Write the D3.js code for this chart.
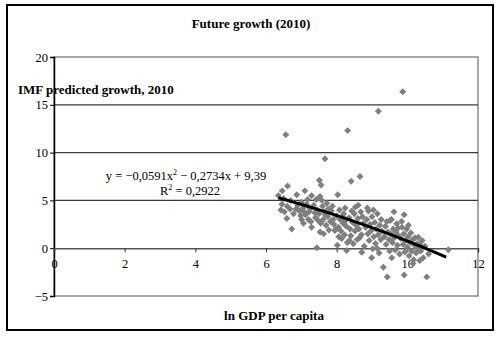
<!DOCTYPE html>
<html>
<head>
<meta charset="utf-8">
<script src="https://cdn.jsdelivr.net/npm/d3@7/dist/d3.min.js"></script>
<style>
  html, body { margin: 0; padding: 0; background: #fff; }
  svg { display: block; }
  text { font-family: "Liberation Serif", "Times New Roman", serif; fill: #000; }
</style>
</head>
<body>
<svg id="chart" width="500" height="340"></svg>
<script>
// ln GDP per capita (x) and IMF predicted growth for 2010 (y), one entry per country
const lnGdp = [
  6.35, 6.46, 6.61, 6.56, 6.52, 6.59, 6.73, 6.45, 6.60, 6.70, 6.78, 6.50, 6.68, 6.42,
  6.87, 7.10, 7.29, 7.01, 7.06, 7.29, 6.90, 6.95, 7.00, 7.05, 7.12, 7.15, 7.20, 7.25, 6.85, 7.18, 7.22, 6.98, 7.08, 7.27,
  7.51, 7.56, 7.53, 7.67, 7.44, 7.53, 7.35, 7.40, 7.45, 7.50, 7.55, 7.60, 7.62, 7.65, 7.70, 7.72, 7.75, 7.78, 7.38, 7.48, 7.58, 7.68, 7.42, 7.63, 7.76,
  8.03, 7.95, 8.14, 8.28, 7.85, 7.90, 7.92, 8.00, 8.05, 8.08, 8.10, 8.12, 8.18, 8.20, 8.22, 8.25, 8.30, 7.88, 7.98, 8.16, 8.24, 8.06, 8.27, 7.82, 8.02,
  8.31, 8.41, 8.66, 8.61, 8.47, 8.71, 8.35, 8.38, 8.40, 8.45, 8.50, 8.52, 8.55, 8.58, 8.60, 8.63, 8.68, 8.70, 8.75, 8.78, 8.43, 8.53, 8.65, 8.73, 8.36,
  8.99, 9.02, 9.18, 8.82, 8.85, 8.88, 8.90, 8.92, 8.95, 8.97, 9.00, 9.05, 9.08, 9.10, 9.12, 9.15, 9.18, 9.20, 9.22, 9.25, 9.28, 8.87, 9.04, 9.14, 9.26,
  9.32, 9.43, 9.56, 9.62, 9.51, 9.70, 9.87, 9.35, 9.38, 9.40, 9.45, 9.48, 9.50, 9.53, 9.58, 9.60, 9.63, 9.66, 9.68, 9.72, 9.75, 9.78, 9.42, 9.55, 9.74,
  9.91, 9.91, 9.82, 9.85, 9.88, 9.90, 9.93, 9.95, 9.98, 10.00, 10.02, 10.05, 10.08, 10.10, 10.12, 10.15, 10.18, 10.20, 10.22, 10.25, 10.28, 9.84, 10.03, 10.16, 10.27,
  10.31, 10.35, 10.38, 10.42, 10.45, 10.50, 10.55, 10.60, 10.35, 11.16
];
const growth = [
  5.5, 6.0, 6.5, 11.86, 3.8, 3.1, 2.0, 4.6, 4.4, 5.0, 3.6, 5.2, 4.1, 4.0,
  5.6, 6.0, 5.5, 3.0, 2.6, 2.2, 4.5, 3.9, 4.8, 4.2, 3.5, 4.6, 3.0, 4.1, 4.1, 5.1, 3.8, 3.4, 3.8, 2.8,
  7.1, 6.6, 5.4, 9.35, 0.04, 1.7, 4.5, 3.2, 4.0, 3.6, 2.6, 4.4, 3.0, 3.8, 2.4, 4.7, 3.3, 1.9, 3.7, 2.9, 5.0, 3.5, 5.1, 1.5, 4.1,
  5.6, 1.85, 1.0, -0.24, 3.9, 3.0, 2.5, 3.4, 2.2, 4.0, 3.0, 1.8, 2.6, 3.6, 1.4, 2.9, 0.6, 4.4, 2.0, 3.3, 4.2, 1.2, 2.3, 2.8, 0.3,
  12.3, 7.0, 7.5, 4.5, 0.46, -0.42, 3.2, 2.0, 1.3, 2.7, 3.6, 1.8, 2.4, 0.9, 3.1, 2.0, 3.8, 1.4, 2.6, 0.2, 3.9, 4.3, 1.1, 3.3, 0.8,
  -1.0, -0.07, 14.33, 2.2, 3.0, 1.5, 3.9, 0.8, 2.5, 1.8, 3.3, 1.2, 2.7, 0.5, 2.0, 3.6, 1.4, -0.5, 2.4, 0.9, 1.8, 4.2, 4.0, 0.0, 3.0,
  -2.0, -3.0, -1.0, 3.8, 2.9, 2.55, 16.36, 1.2, 2.3, 0.4, 1.7, 0.9, -0.3, 1.5, 0.6, 2.0, 1.1, -0.2, 1.7, 0.3, 1.3, -0.6, 2.8, 3.0, 2.1,
  3.5, -2.8, 1.0, 2.2, 0.4, 1.5, -0.4, 0.8, 2.0, 0.1, 1.2, -0.8, 0.6, 1.6, -0.3, 0.9, -1.2, 0.3, 1.1, -0.5, 0.5, 2.8, 2.4, -1.6, 0.0,
  1.15, 0.4, -0.3, 0.8, -1.0, 0.2, -3.0, -0.6, -1.3, -0.17
];

// Polynomial trend (order 2) shown on the chart
const trendCoef = [-0.0591, -0.2734, 9.39];
const trendRange = [6.35, 11.1];

const xTicks = [0, 2, 4, 6, 8, 10, 12];
const yTicks = [-5, 0, 5, 10, 15, 20];

const svg = d3.select("#chart");

// outer frame
svg.append("rect")
  .attr("x", 7).attr("y", 5).attr("width", 486).attr("height", 325)
  .attr("fill", "#fff").attr("stroke", "#000").attr("stroke-width", 2);

const x = d3.scaleLinear().domain([0, 12]).range([54, 478]);
const y = d3.scaleLinear().domain([-5, 20]).range([296, 57]);

// plot area border
svg.append("rect")
  .attr("x", x(0)).attr("y", y(20))
  .attr("width", x(12) - x(0)).attr("height", y(-5) - y(20))
  .attr("fill", "none").attr("stroke", "#8c8c8c").attr("stroke-width", 1.5);

// horizontal gridlines
svg.append("g").selectAll("line")
  .data(yTicks.filter(d => d > 0 && d < 20))
  .join("line")
  .attr("x1", x(0)).attr("x2", x(12))
  .attr("y1", d => y(d)).attr("y2", d => y(d))
  .attr("stroke", "#3a3a3a").attr("stroke-width", 1.3);

// y axis
const yAxis = svg.append("g")
  .attr("transform", `translate(${x(0)},0)`)
  .call(d3.axisLeft(y).tickValues(yTicks).tickSize(4).tickPadding(2)
    .tickFormat(d => d < 0 ? "\u2212" + Math.abs(d) : d));
yAxis.select(".domain").attr("stroke", "#000").attr("stroke-width", 1.5);
yAxis.selectAll(".tick line").attr("stroke", "#000");
yAxis.selectAll("text").style("font-size", "12.5px").attr("fill", "#222");

// x axis on the zero line
const xAxis = svg.append("g")
  .attr("transform", `translate(0,${y(0)})`)
  .call(d3.axisBottom(x).tickValues(xTicks).tickSize(4).tickPadding(7)
    .tickFormat(d3.format("d")));
xAxis.select(".domain").attr("stroke", "#555").attr("stroke-width", 1.5);
xAxis.selectAll(".tick line").attr("stroke", "#333");
xAxis.selectAll("text").style("font-size", "12.5px").attr("fill", "#333");

// scatter points (diamonds)
const diamond = d3.symbol().type(d3.symbolSquare).size(24)();
const points = d3.zip(lnGdp, growth);
svg.append("g").selectAll("path")
  .data(points)
  .join("path")
  .attr("d", diamond)
  .attr("transform", d => `translate(${x(d[0])},${y(d[1])}) rotate(45)`)
  .attr("fill", "#7f7f7f");

// trend line
const trendX = d3.range(trendRange[0], trendRange[1] + 0.001, 0.05);
const trendFn = v => trendCoef[0] * v * v + trendCoef[1] * v + trendCoef[2];
svg.append("path")
  .datum(trendX)
  .attr("d", d3.line().x(v => x(v)).y(v => y(trendFn(v))))
  .attr("fill", "none").attr("stroke", "#000").attr("stroke-width", 3);

// titles
svg.append("text").attr("x", 251).attr("y", 28).attr("text-anchor", "middle")
  .style("font-size", "13px").style("font-weight", "bold")
  .text("Future growth (2010)");
svg.append("text").attr("x", 18).attr("y", 94)
  .style("font-size", "13px").style("font-weight", "bold")
  .text("IMF predicted growth, 2010");
svg.append("text").attr("x", 274).attr("y", 320).attr("text-anchor", "middle")
  .style("font-size", "13px").style("font-weight", "bold")
  .text("ln GDP per capita");

// trend equation
const fmt = v => d3.format(".4~f")(Math.abs(v)).replace(".", ",");
const eq = svg.append("text").attr("x", 186).attr("y", 180).attr("text-anchor", "middle")
  .style("font-size", "12.5px");
eq.append("tspan").text(`y = \u2212${fmt(trendCoef[0])}x`);
eq.append("tspan").attr("dy", -5).style("font-size", "8px").text("2");
eq.append("tspan").attr("dy", 5).text(` \u2212 ${fmt(trendCoef[1])}x + ${fmt(trendCoef[2])}`);
const r2 = svg.append("text").attr("x", 190).attr("y", 195).attr("text-anchor", "middle")
  .style("font-size", "12.5px");
r2.append("tspan").text("R");
r2.append("tspan").attr("dy", -5).style("font-size", "8px").text("2");
r2.append("tspan").attr("dy", 5).text(" = 0,2922");
</script>
</body>
</html>
